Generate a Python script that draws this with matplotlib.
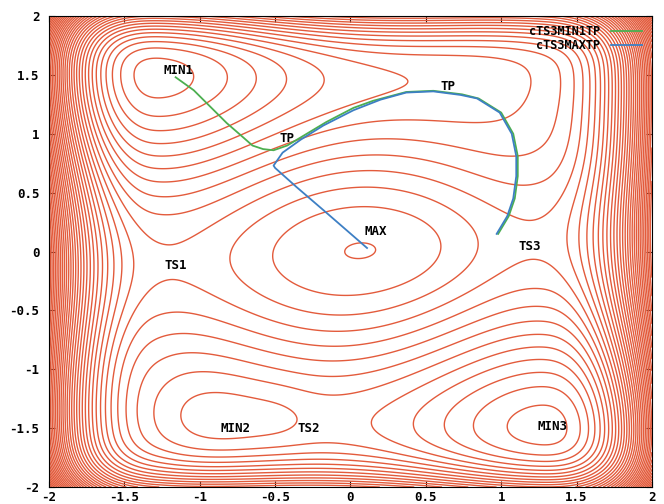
import numpy as np
import matplotlib
matplotlib.use("Agg")
import matplotlib.pyplot as plt

# stationary points (x, y)
labels = ["MIN1", "TP", "TP", "MAX", "TS1", "TS3", "MIN2", "TS2", "MIN3"]
label_x = [-1.14, -0.42, 0.65, 0.17, -1.16, 1.19, -0.76, -0.28, 1.34]
label_y = [1.54, 0.96, 1.40, 0.17, -0.12, 0.04, -1.50, -1.50, -1.49]

# surface model: quartic double wells + coupling + walls + gaussian bumps
well_x = [3.96, 1.375]    # c, a  ->  a*x^4 - c*x^2
well_y = [7.29, 1.736]    # e, b  ->  b*y^4 - e*y^2
coupling = 1.06           # g*x*y
wall_x = [1.25, 42.0]     # start, strength of cubic wall in x
wall_y = [1.5, 40.0]      # start, strength of cubic wall in y
bump_x = [1.45, -1.55, -0.75, -0.45, 0.50]
bump_y = [1.38, -1.45, -1.38, -1.40, 0.03]
bump_amp = [3.0, 2.0, -0.30, -0.30, 0.30]
bump_sx = [0.62, 0.35, 0.30, 0.15, 0.30]
bump_sy = [0.40, 0.40, 0.22, 0.20, 0.30]

# reaction paths
min1_x = [-1.16, -1.04, -0.93, -0.82, -0.73, -0.65, -0.58, -0.51, -0.42, -0.29,
          -0.16, 0.02, 0.15, 0.37, 0.55, 0.74, 0.85, 1.00, 1.08, 1.11, 1.11,
          1.09, 1.05, 0.98]
min1_y = [1.48, 1.37, 1.23, 1.09, 0.99, 0.90, 0.87, 0.86, 0.90, 1.00,
          1.10, 1.22, 1.28, 1.355, 1.365, 1.335, 1.30, 1.18, 1.00, 0.81, 0.64,
          0.45, 0.30, 0.15]
max_x = [0.11, -0.16, -0.36, -0.50, -0.51, -0.45, -0.33, -0.18, 0.02, 0.20,
         0.37, 0.55, 0.73, 0.84, 0.99, 1.07, 1.10, 1.10, 1.08, 1.04, 0.97]
max_y = [0.03, 0.33, 0.55, 0.71, 0.73, 0.84, 0.95, 1.07, 1.20, 1.29,
         1.35, 1.36, 1.33, 1.30, 1.18, 1.00, 0.81, 0.64, 0.45, 0.30, 0.15]

xs = np.linspace(-2, 2, 401)
ys = np.linspace(-2, 2, 401)
X, Y = np.meshgrid(xs, ys)
Z = (well_x[1] * X**4 - well_x[0] * X**2
     + well_y[1] * Y**4 - well_y[0] * Y**2
     + coupling * X * Y)
Z += wall_x[1] * np.clip(np.abs(X) - wall_x[0], 0, None)**3
Z += wall_y[1] * np.clip(np.abs(Y) - wall_y[0], 0, None)**3
for bx, by, ba, sx, sy in zip(bump_x, bump_y, bump_amp, bump_sx, bump_sy):
    Z += ba * np.exp(-(X - bx)**2 / (2 * sx**2) - (Y - by)**2 / (2 * sy**2))

levels = np.arange(Z.min() + 0.5, Z.max(), 1.0)

fig = plt.figure(figsize=(6.64, 5.04), dpi=100)
ax = fig.add_axes([0.0738, 0.0337, 0.908, 0.9345])
ax.contour(X, Y, Z, levels=levels, colors="#e35b3c", linewidths=1.0,
           linestyles="solid")

ax.plot(min1_x, min1_y, color="#4caf50", lw=1.3, label="cTS3MIN1TP")
ax.plot(max_x, max_y, color="#3d7fc4", lw=1.3, label="cTS3MAXTP")

font = dict(family="DejaVu Sans Mono", weight="bold", size=9)
for t, lx, ly in zip(labels, label_x, label_y):
    ax.text(lx, ly, t, ha="center", va="center", fontdict=font)

ax.set_xlim(-2, 2)
ax.set_ylim(-2, 2)
ticks = [-2, -1.5, -1, -0.5, 0, 0.5, 1, 1.5, 2]
ticklabels = ["-2", "-1.5", "-1", "-0.5", "0", "0.5", "1", "1.5", "2"]
ax.set_xticks(ticks)
ax.set_xticklabels(ticklabels, fontdict=font)
ax.set_yticks(ticks)
ax.set_yticklabels(ticklabels, fontdict=font)
ax.tick_params(direction="in", top=True, right=True, length=4)
ax.tick_params(axis="x", pad=3)
ax.tick_params(axis="y", pad=7)

leg = ax.legend(loc="upper right", frameon=False, markerfirst=False,
                prop=dict(family="DejaVu Sans Mono", weight="bold", size=8.5),
                handlelength=2.7, handletextpad=0.9, borderpad=0.2,
                borderaxespad=0.6, labelspacing=0.05)

fig.savefig("out.png", dpi=100)
